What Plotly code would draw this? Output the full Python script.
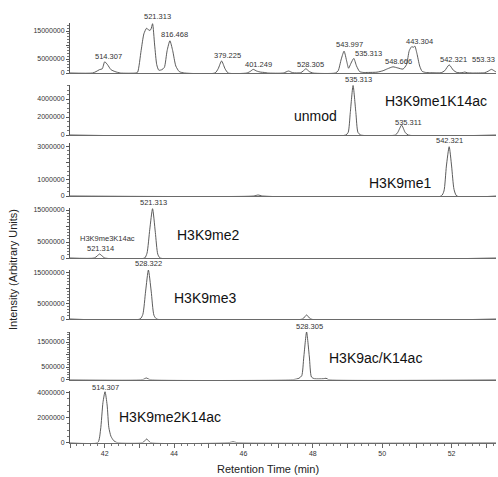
import plotly.graph_objects as go

# ---------------- data (retention time in min, intensity in millions) ----------------
t_total = [41.0, 41.65, 41.75, 41.85, 41.93, 42.0, 42.08, 42.18, 42.3, 42.45,
           42.9, 42.95, 43.05, 43.13, 43.21, 43.28, 43.33, 43.38, 43.44, 43.5, 43.56,
           43.65, 43.72, 43.8, 43.88, 43.96, 44.05, 44.15, 44.3,
           45.18, 45.27, 45.37, 45.47, 45.56,
           46.1, 46.2, 46.28, 46.38, 46.5, 46.6, 46.7,
           47.15, 47.3, 47.42, 47.65, 47.72, 47.8, 47.9, 48.0,
           48.65, 48.73, 48.82, 48.9, 48.98, 49.03, 49.1, 49.18, 49.26, 49.35, 49.45, 49.6,
           49.85, 50.02, 50.15, 50.31, 50.45, 50.6, 50.7, 50.78, 50.85, 50.9, 50.94, 51.0,
           51.08, 51.15, 51.25, 51.4,
           51.7, 51.8, 51.93, 52.05, 52.15, 52.3, 52.38, 52.45, 52.6, 52.95, 53.05, 53.15,
           53.25, 53.3]
i_total = [0.0, 0.0, 0.5, 1.2, 1.5, 4.0, 3.0, 1.2, 0.5, 0.0,
           0.0, 0.3, 8.0, 14.0, 16.0, 15.2, 15.5, 17.6, 10.0, 3.0, 1.0,
           1.2, 2.0, 8.0, 11.5, 8.0, 2.5, 0.5, 0.0,
           0.0, 1.5, 4.3, 1.5, 0.0,
           0.0, 0.6, 1.3, 0.7, 0.3, 0.2, 0.0,
           0.0, 0.7, 0.1, 0.1, 0.7, 1.5, 0.5, 0.0,
           0.0, 0.8, 5.0, 7.8, 4.0, 1.7, 3.5, 5.2, 2.5, 0.5, 0.2, 0.2,
           0.3, 0.8, 1.5, 2.2, 1.8, 1.4, 3.0, 8.0, 9.4, 9.2, 9.6, 7.0,
           2.5, 0.6, 0.2, 0.1,
           0.1, 0.8, 2.9, 1.0, 0.2, 0.1, 0.35, 0.1, 0.0, 0.1, 0.6, 1.3,
           0.6, 0.3]

t_unmod = [41.0, 48.95, 49.02, 49.08, 49.16, 49.24, 49.3, 49.38, 50.38, 50.45, 50.56, 50.66, 50.75, 53.3]
i_unmod = [0.0, 0.0, 0.3, 2.5, 5.5, 2.5, 0.3, 0.0, 0.0, 0.3, 1.1, 0.3, 0.0, 0.0]

t_me1 = [41.0, 46.3, 46.42, 46.55, 51.7, 51.78, 51.85, 51.93, 52.0, 52.07, 52.15, 53.3]
i_me1 = [0.0, 0.0, 0.06, 0.0, 0.0, 0.3, 1.8, 2.96, 1.8, 0.4, 0.0, 0.0]

t_me2 = [41.0, 41.7, 41.78, 41.85, 41.93, 42.0, 43.15, 43.22, 43.3, 43.38, 43.46, 43.53, 43.6, 53.3]
i_me2 = [0.0, 0.0, 0.6, 1.25, 0.6, 0.0, 0.0, 1.5, 9.0, 15.4, 8.0, 1.2, 0.0, 0.0]

t_me3 = [41.0, 43.02, 43.1, 43.18, 43.26, 43.34, 43.42, 43.5, 47.7, 47.82, 47.94, 53.3]
i_me3 = [0.0, 0.0, 1.5, 9.0, 15.8, 9.0, 1.2, 0.0, 0.0, 1.3, 0.0, 0.0]

t_ac = [41.0, 43.1, 43.2, 43.3, 47.45, 47.6, 47.68, 47.74, 47.82, 47.9, 47.96, 48.05,
        48.3, 48.38, 48.45, 53.3]
i_ac = [0.0, 0.0, 0.06, 0.0, 0.0, 0.05, 0.15, 0.9, 1.9, 0.9, 0.1, 0.03,
        0.03, 0.05, 0.0, 0.0]

t_me2ac = [41.0, 41.8, 41.88, 41.95, 42.01, 42.07, 42.12, 42.18, 42.26, 42.35,
           43.1, 43.21, 43.32, 45.6, 45.7, 45.8, 53.3]
i_me2ac = [0.0, 0.0, 1.0, 3.2, 4.06, 3.0, 1.2, 0.5, 0.15, 0.0,
           0.0, 0.28, 0.0, 0.0, 0.06, 0.0, 0.0]

panel_times = [t_total, t_unmod, t_me1, t_me2, t_me3, t_ac, t_me2ac]
panel_values = [i_total, i_unmod, i_me1, i_me2, i_me3, i_ac, i_me2ac]

# y-axis ticks per panel (values, labels)
y_tickvals = [[0, 5e6, 10e6, 15e6], [0, 2e6, 4e6], [0, 1e6, 2e6, 3e6], [0, 5e6, 10e6, 15e6],
              [0, 5e6, 10e6, 15e6], [0, 5e5, 1e6, 1.5e6], [0, 2e6, 4e6]]
y_ticktext = [["0", "5000000", "", "15000000"], ["0", "2000000", "4000000"],
              ["0", "1000000", "", "3000000"], ["0", "5000000", "", "15000000"],
              ["0", "5000000", "", "15000000"], ["0", "500000", "", "1500000"],
              ["0", "2000000", "4000000"]]
x_tickvals = list(range(41, 54))
x_ticktext = [str(v) if v % 2 == 0 else "" for v in x_tickvals]

# peak labels: (text, x px, y px)
peak_labels = [
    ("514.307", 108, 57), ("521.313", 157, 17), ("816.468", 174, 34), ("379.225", 227, 55),
    ("401.249", 258, 64), ("528.305", 310, 64), ("543.997", 349, 45), ("535.313", 368, 53),
    ("548.666", 398, 61), ("443.304", 419, 41), ("542.321", 453, 59),
    ("535.313", 358, 79), ("535.311", 408, 122),
    ("542.321", 449, 141),
    ("521.313", 153, 202), ("H3K9me3K14ac", 107, 239), ("521.314", 100, 248.5),
    ("528.322", 148, 263),
    ("528.305", 309, 326),
    ("514.307", 105, 387),
]
edge_label = ("553.33", 497, 60)
big_labels = [
    ("unmod", 315, 116), ("H3K9me1K14ac", 436, 101), ("H3K9me1", 400, 183),
    ("H3K9me2", 208, 235), ("H3K9me3", 205, 298), ("H3K9ac/K14ac", 375, 358),
    ("H3K9me2K14ac", 170, 417),
]

# ---------------- layout geometry (pixels) ----------------
W, H = 498, 477
X0, X1 = 70, 496
panel_px = [(23, 73), (85, 135), (143, 196), (208, 258), (270, 319), (332, 379.5), (391, 442.5)]
panel_scale = [2.8, 9.0, 16.65, 3.2, 3.1, 25.0, 12.5]  # px per million
minor_dt = [1e6, 5e5, 2.5e5, 1e6, 1e6, 1e5, 5e5]
XR = [41.0, 53.28]

def px_x(p):
    return p / W

def px_y(p):
    return 1 - p / H

FONT = "Arial, Liberation Sans, sans-serif"
fig = go.Figure()
layout = dict(width=W, height=H, margin=dict(l=0, r=0, t=0, b=0, autoexpand=False),
              paper_bgcolor="white", plot_bgcolor="white", showlegend=False,
              font=dict(family=FONT, color="#333"))

n = len(panel_times)
for k in range(n):
    idx = "" if k == 0 else str(k + 1)
    top, bot = panel_px[k]
    ymax = (bot - top) / panel_scale[k] * 1e6
    fig.add_trace(go.Scatter(
        x=panel_times[k], y=[v * 1e6 for v in panel_values[k]],
        mode="lines", line=dict(color="#4a4a4a", width=0.9, shape="spline", smoothing=0.6),
        xaxis="x" + idx, yaxis="y" + idx, hoverinfo="skip"))
    last = (k == n - 1)
    xa = dict(domain=[px_x(X0), px_x(X1)], range=XR, anchor="y" + idx, showgrid=False,
              zeroline=False, showline=True, linecolor="#6a6a6a", linewidth=1.3,
              layer="above traces")
    if k > 0:
        xa["matches"] = "x"
    if last:
        xa.update(tickmode="array", tickvals=x_tickvals, ticktext=x_ticktext,
                  ticks="outside", ticklen=4, tickcolor="#666", tickwidth=1,
                  tickfont=dict(size=7, color="#333"),
                  minor=dict(dtick=0.2, ticks="outside", ticklen=2, tickcolor="#777"))
    else:
        xa.update(showticklabels=False, ticks="")
    ya = dict(domain=[px_y(bot), px_y(top)], range=[0, ymax], anchor="x" + idx,
              showgrid=False, zeroline=False, showline=True, linecolor="#555", linewidth=1,
              tickmode="array", tickvals=y_tickvals[k], ticktext=y_ticktext[k],
              ticks="outside", ticklen=3, tickcolor="#555", tickfont=dict(size=7, color="#333"),
              minor=dict(dtick=minor_dt[k], ticks="outside", ticklen=2, tickcolor="#777"))
    layout["xaxis" + idx] = xa
    layout["yaxis" + idx] = ya

ann = []
for text, x, y in peak_labels:
    ann.append(dict(text=text, x=px_x(x), y=px_y(y), xref="paper", yref="paper",
                    showarrow=False, xanchor="center", yanchor="middle",
                    font=dict(size=7.5, color="#333", family=FONT)))
ann.append(dict(text=edge_label[0], x=px_x(edge_label[1]), y=px_y(edge_label[2]),
                xref="paper", yref="paper", showarrow=False, xanchor="right", yanchor="middle",
                font=dict(size=7.5, color="#333", family=FONT)))
for text, x, y in big_labels:
    ann.append(dict(text=text, x=px_x(x), y=px_y(y), xref="paper", yref="paper",
                    showarrow=False, xanchor="center", yanchor="middle",
                    font=dict(size=14, color="#111", family=FONT)))
ann.append(dict(text="Intensity (Arbitrary Units)", x=px_x(13), y=px_y(270), xref="paper",
                yref="paper", showarrow=False, textangle=-90, xanchor="center", yanchor="middle",
                font=dict(size=11, color="#222", family=FONT)))
ann.append(dict(text="Retention Time (min)", x=px_x(268), y=px_y(469), xref="paper",
                yref="paper", showarrow=False, xanchor="center", yanchor="middle",
                font=dict(size=11, color="#222", family=FONT)))
layout["annotations"] = ann
fig.update_layout(**layout)
fig.write_html("out.html", config={"displayModeBar": False},
               post_script="document.body.style.margin='0';document.body.style.overflow='hidden';")
